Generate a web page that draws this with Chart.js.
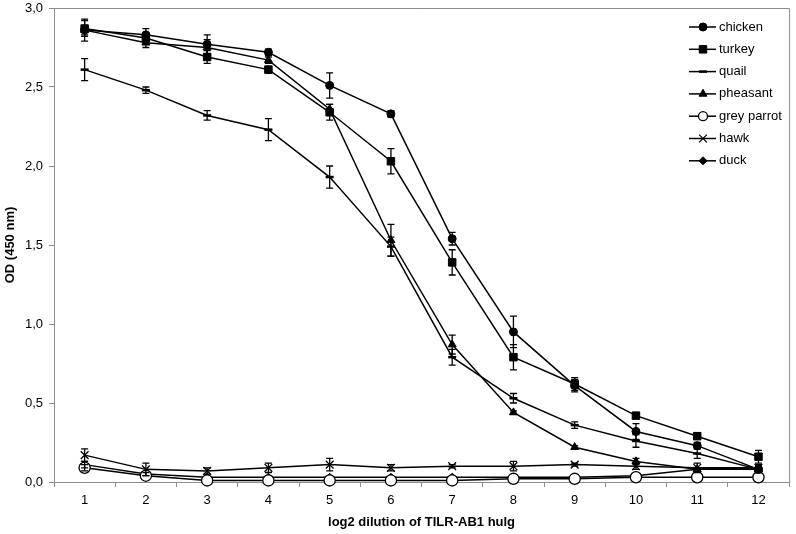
<!DOCTYPE html>
<html><head><meta charset="utf-8">
<script src="https://cdn.jsdelivr.net/npm/chart.js@4.4.1/dist/chart.umd.min.js"></script>
<style>html,body{margin:0;padding:0;background:#fff;}#wrap{width:796px;height:534px;position:relative;}</style>
</head><body><div id="wrap"><canvas id="c" width="796" height="534"></canvas></div>
<script>
const categories = ['1','2','3','4','5','6','7','8','9','10','11','12'];
const yTicks = [0, 0.5, 1.0, 1.5, 2.0, 2.5, 3.0];

const chicken     = [2.86, 2.83, 2.77, 2.72, 2.51, 2.33, 1.54, 0.95, 0.61, 0.32, 0.23, 0.08];
const chickenErr  = [0.07, 0.04, 0.06, 0.02, 0.08, 0.02, 0.04, 0.10, 0.04, 0.05, 0.02, 0.02];
const turkey      = [2.87, 2.81, 2.69, 2.61, 2.34, 2.03, 1.39, 0.79, 0.62, 0.42, 0.29, 0.16];
const turkeyErr   = [0.05, 0.03, 0.04, 0.02, 0.05, 0.08, 0.08, 0.08, 0.04, 0.01, 0.02, 0.04];
const quail       = [2.61, 2.48, 2.32, 2.23, 1.93, 1.49, 0.79, 0.53, 0.36, 0.26, 0.18, 0.08];
const quailErr    = [0.07, 0.02, 0.03, 0.07, 0.07, 0.06, 0.05, 0.03, 0.02, 0.04, 0.03, 0.02];
const pheasant    = [2.86, 2.78, 2.75, 2.67, 2.36, 1.53, 0.87, 0.44, 0.22, 0.13, 0.08, 0.08];
const pheasantErr = [0.03, 0.03, 0.05, 0.02, 0.03, 0.10, 0.06, 0.01, 0.01, 0.02, 0.01, 0.02];
const greyParrot  = [0.09, 0.04, 0.01, 0.01, 0.01, 0.01, 0.01, 0.02, 0.02, 0.03, 0.03, 0.03];
const greyParrotErr = [0.02, 0, 0, 0, 0, 0, 0, 0, 0, 0, 0, 0];
const hawk        = [0.17, 0.08, 0.07, 0.09, 0.11, 0.09, 0.10, 0.10, 0.11, 0.10, 0.09, 0.09];
const hawkErr     = [0.04, 0.04, 0.02, 0.03, 0.04, 0.02, 0.01, 0.03, 0.01, 0.02, 0.03, 0.02];
const duck        = [0.11, 0.05, 0.03, 0.03, 0.03, 0.03, 0.03, 0.03, 0.03, 0.04, 0.08, 0.09];
const duckErr     = [0.02, 0.01, 0, 0, 0, 0, 0, 0, 0, 0, 0, 0];

const seriesNames = ['chicken','turkey','quail','pheasant','grey parrot','hawk','duck'];
const FONT = "'Liberation Sans', Arial, sans-serif";

function ds(label, data, err, style, radius, fill, bw) {
  return {
    label, data, err,
    borderColor: '#000', backgroundColor: fill, borderWidth: 1.5,
    pointStyle: style, pointRadius: radius, pointHoverRadius: radius,
    pointBackgroundColor: fill, pointBorderColor: '#000', pointBorderWidth: bw,
    tension: 0, fill: false, clip: false
  };
}

const datasets = [
  ds(seriesNames[0], chicken, chickenErr, 'circle', 4, '#000', 1),
  ds(seriesNames[1], turkey, turkeyErr, 'rect', 5.3, '#000', 1),
  ds(seriesNames[2], quail, quailErr, 'line', 4, '#000', 2.5),
  ds(seriesNames[3], pheasant, pheasantErr, 'triangle', 4.6, '#000', 1),
  ds(seriesNames[4], greyParrot, greyParrotErr, 'circle', 5.6, '#fff', 1.3),
  ds(seriesNames[5], hawk, hawkErr, 'crossRot', 5.5, '#000', 1.3),
  ds(seriesNames[6], duck, duckErr, 'rectRot', 4, '#000', 1)
];

const errorBars = {
  id: 'errorBars',
  afterDatasetsDraw(chart) {
    const ctx = chart.ctx, xs = chart.scales.x, ys = chart.scales.y;
    ctx.save();
    ctx.strokeStyle = '#000'; ctx.lineWidth = 1.3;
    chart.data.datasets.forEach(d => {
      d.data.forEach((v, i) => {
        const e = d.err[i]; if (!e) return;
        const px = xs.getPixelForValue(i);
        const t = ys.getPixelForValue(v + e), b = ys.getPixelForValue(Math.max(0, v - e));
        ctx.beginPath();
        ctx.moveTo(px, t); ctx.lineTo(px, b);
        ctx.moveTo(px - 3.5, t); ctx.lineTo(px + 3.5, t);
        ctx.moveTo(px - 3.5, b); ctx.lineTo(px + 3.5, b);
        ctx.stroke();
      });
    });
    ctx.restore();
  }
};

const frame = {
  id: 'frame',
  afterDraw(chart) {
    const ctx = chart.ctx, a = chart.chartArea;
    ctx.save();
    ctx.strokeStyle = '#8c8c8c'; ctx.lineWidth = 1;
    ctx.beginPath();
    ctx.moveTo(a.left, a.top + 0.5); ctx.lineTo(a.right + 0.5, a.top + 0.5); ctx.lineTo(a.right + 0.5, a.bottom);
    ctx.stroke();
    ctx.restore();
  }
};

const legendPlugin = {
  id: 'customLegend',
  afterDraw(chart) {
    const ctx = chart.ctx;
    const x0 = 689, x1 = 716, tx = 719, y0 = 27, step = 22.3;
    ctx.save();
    ctx.font = '13px ' + FONT;
    ctx.textBaseline = 'middle';
    ctx.fillStyle = '#000';
    chart.data.datasets.forEach((d, i) => {
      const y = y0 + i * step;
      ctx.strokeStyle = '#000'; ctx.lineWidth = 1.5;
      ctx.beginPath(); ctx.moveTo(x0, y); ctx.lineTo(x1, y); ctx.stroke();
      ctx.fillStyle = d.pointBackgroundColor;
      ctx.strokeStyle = '#000'; ctx.lineWidth = d.pointBorderWidth;
      const r = d.pointStyle === 'circle' && d.pointBackgroundColor === '#fff' ? 4.5 : d.pointRadius;
      Chart.helpers.drawPoint(ctx, {pointStyle: d.pointStyle, radius: r, borderWidth: d.pointBorderWidth, rotation: 0}, (x0 + x1) / 2 + 0.5, y);
      ctx.fillStyle = '#000';
      ctx.fillText(d.label, tx, y);
    });
    ctx.restore();
  }
};

new Chart(document.getElementById('c'), {
  type: 'line',
  data: { labels: categories, datasets },
  plugins: [errorBars, frame, legendPlugin],
  options: {
    responsive: false, animation: false, devicePixelRatio: 1,
    layout: { padding: { top: 8, right: 4, left: 0, bottom: 0 } },
    plugins: { legend: { display: false }, tooltip: { enabled: false } },
    scales: {
      x: {
        type: 'category', offset: true,
        grid: { offset: true, drawOnChartArea: false, drawTicks: true, tickLength: 5, color: '#8c8c8c' },
        border: { color: '#8c8c8c', width: 1 },
        ticks: { color: '#000', font: { family: FONT, size: 13 }, padding: 6, maxRotation: 0 },
        title: { display: true, text: 'log2 dilution of TILR-AB1 hulg', color: '#000', font: { family: FONT, size: 13, weight: 'bold' }, padding: { top: 4, bottom: 4 } },
        afterFit(s) { s.height = 52; s.paddingLeft = 0; s.paddingRight = 0; }
      },
      y: {
        min: 0, max: 3,
        afterBuildTicks(s) { s.ticks = yTicks.map(v => ({ value: v })); },
        grid: { drawOnChartArea: false, drawTicks: true, tickLength: 5, color: '#8c8c8c' },
        border: { color: '#8c8c8c', width: 1 },
        ticks: { color: '#000', font: { family: FONT, size: 13 }, padding: 6, callback: v => Number(v).toFixed(1).replace('.', ',') },
        title: { display: true, text: 'OD (450 nm)', color: '#000', font: { family: FONT, size: 13, weight: 'bold' }, padding: { top: 3, bottom: 3 } },
        afterFit(s) { s.width = 54; s.paddingTop = 0; s.paddingBottom = 0; }
      }
    }
  }
});
</script>
</body></html>
